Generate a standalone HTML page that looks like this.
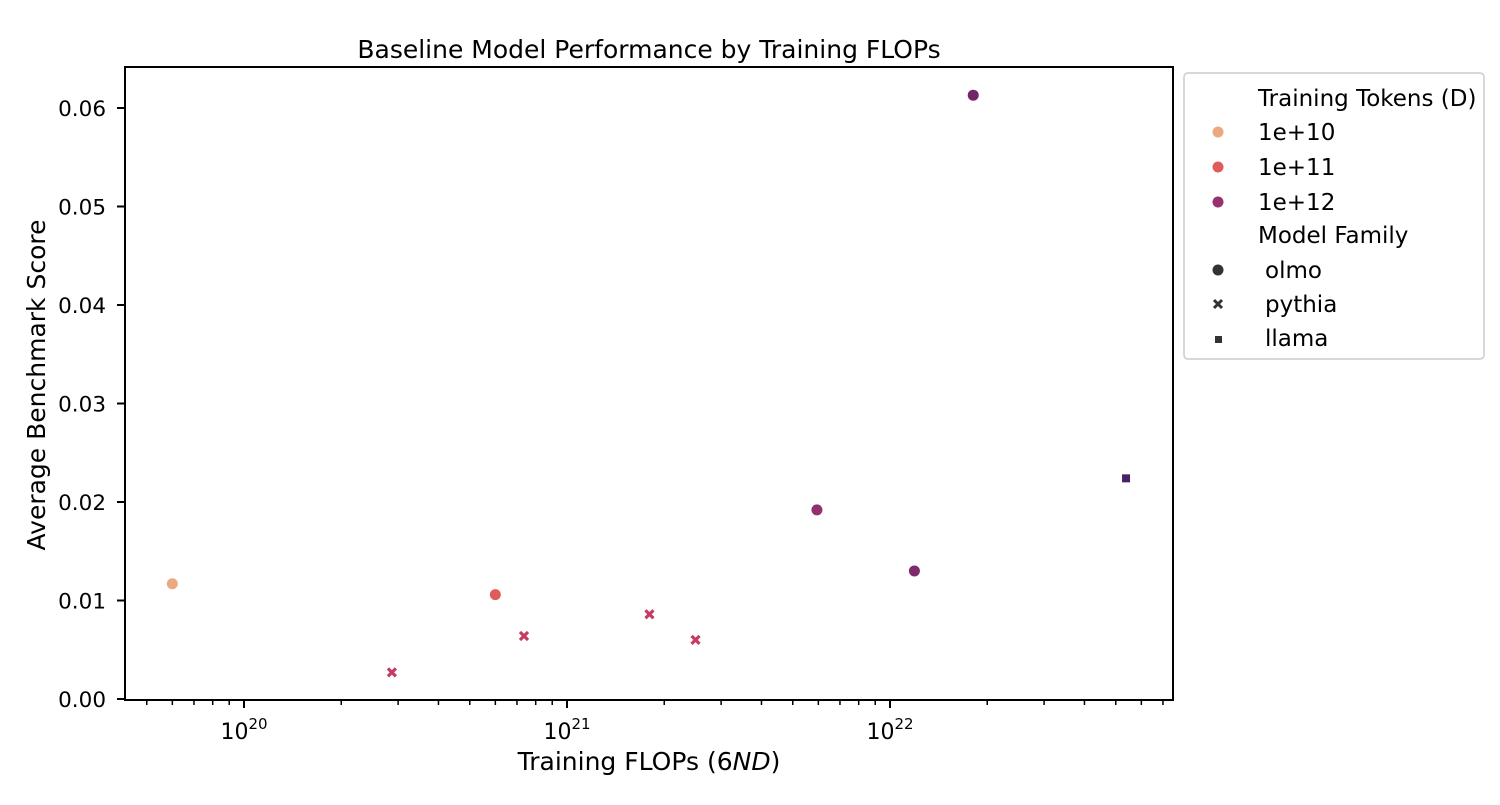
<!DOCTYPE html>
<html><head><meta charset="utf-8"><style>
body{margin:0;background:#fff;}
svg text{font-family:"DejaVu Sans","Liberation Sans",sans-serif;fill:#000;}
</style></head><body>
<svg id="chart" width="1500" height="800" xmlns="http://www.w3.org/2000/svg">
<rect width="1500" height="800" fill="#fff"/>
<text x="649" y="58" font-size="25" text-anchor="middle">Baseline Model Performance by Training FLOPs</text>
<g id="ticks"></g>
<g id="marks"></g>
<rect x="125" y="67" width="1048" height="633" fill="none" stroke="#000" stroke-width="2"/>
<text x="649" y="770" font-size="25" text-anchor="middle">Training FLOPs (6<tspan font-style="italic">ND</tspan>)</text>
<text x="45" y="385" font-size="25" text-anchor="middle" transform="rotate(-90 45 385)">Average Benchmark Score</text>
<g>
<rect x="1184" y="73" width="300" height="286" rx="4" fill="#fff" stroke="#ccc" stroke-width="1.5"/>
<text x="1258" y="106" font-size="23">Training Tokens (D)</text>
<circle cx="1218" cy="132" r="5.5" fill="#eba97f"/><text x="1258" y="140" font-size="23">1e+10</text>
<circle cx="1218" cy="167" r="5.5" fill="#e05c5a"/><text x="1258" y="175" font-size="23">1e+11</text>
<circle cx="1218" cy="202" r="5.5" fill="#99306f"/><text x="1258" y="210" font-size="23">1e+12</text>
<text x="1258" y="243" font-size="23">Model Family</text>
<circle cx="1218" cy="270" r="5.5" fill="#333"/><text x="1265" y="278" font-size="23">olmo</text>
<path d="M1214 300l8 8M1222 300l-8 8" stroke="#333" stroke-width="3"/><text x="1265" y="312" font-size="23">pythia</text>
<rect x="1215" y="336" width="7" height="7" fill="#333"/><text x="1265" y="346" font-size="23">llama</text>
</g>
</svg>
<script>
const flops=[6e19,6e20,2.87e20,7.36e20,1.8e21,2.5e21,5.94e21,1.19e22,1.81e22,5.38e22];
const scores=[0.0117,0.0106,0.0027,0.0064,0.0086,0.0060,0.0192,0.0130,0.0613,0.0224];
const families=["olmo","olmo","pythia","pythia","pythia","pythia","olmo","olmo","olmo","llama"];
const colors=["#eba97f","#e05c5a","#c43c62","#c43c62","#c43c62","#c43c62","#922f6e","#7e2a6c","#722568","#4a2163"];
const yTicks=[0,0.01,0.02,0.03,0.04,0.05,0.06];
const yTickLabels=["0.00","0.01","0.02","0.03","0.04","0.05","0.06"];
const xMajor=[20,21,22];

const NS="http://www.w3.org/2000/svg";
const X=v=>244+(Math.log10(v)-20)*323;
const Y=v=>699-v*9850;
function mk(tag,attrs,parent){const e=document.createElementNS(NS,tag);for(const k in attrs)e.setAttribute(k,attrs[k]);parent.appendChild(e);return e;}
const tg=document.getElementById('ticks');
yTicks.forEach((t,i)=>{
  const y=Y(t);
  const l=mk('line',{x1:117,x2:125,y1:y,y2:y,stroke:'#000','stroke-width':2},tg);
  
  
  const tx=mk('text',{x:106,y:y+8,'font-size':21.5,'text-anchor':'end'},tg);
  tx.textContent=yTickLabels[i];
  
  
});
for(let d=19;d<=22;d++){
  for(let m=1;m<10;m++){
    const x=X(m*Math.pow(10,d));
    if(x<125||x>1173)continue;
    const major=m===1;
    const l=mk('line',{x1:x,x2:x,y1:700,y2:major?708:705,stroke:'#000','stroke-width':major?2:1.5},tg);
    
    
    if(major){
      const tx=mk('text',{x:x,y:739,'font-size':22,'text-anchor':'middle'},tg);
      tx.innerHTML='10<tspan font-size="15" dy="-10">'+d+'</tspan>';
      
      
    }
  }
}
const mg=document.getElementById('marks');
flops.forEach((f,i)=>{
  const x=X(f),y=Y(scores[i]);let e;
  if(families[i]==='olmo'){e=mk('circle',{cx:x,cy:y,r:5.5,fill:colors[i]},mg);}
  else if(families[i]==='pythia'){e=mk('path',{d:`M${x-4} ${y-4}l8 8M${x+4} ${y-4}l-8 8`,stroke:colors[i],'stroke-width':3.2},mg);}
  else{e=mk('rect',{x:x-4,y:y-4,width:8,height:8,fill:colors[i]},mg);}
  
  
});
</script>
</body></html>
